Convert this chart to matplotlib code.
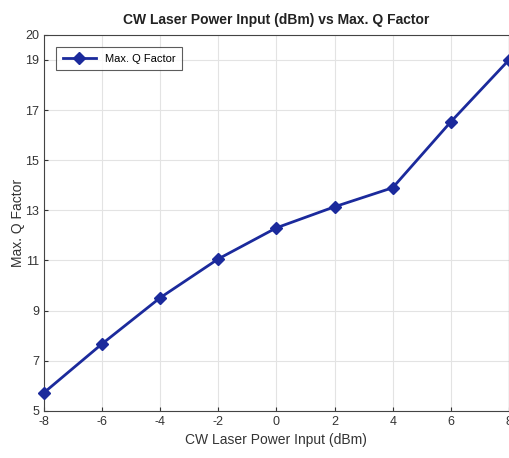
import matplotlib
matplotlib.use("Agg")
import matplotlib.pyplot as plt

plt.rcParams['font.family'] = ['Liberation Sans', 'DejaVu Sans']
plt.rcParams['axes.unicode_minus'] = False

# data
power_dbm = [-8, -6, -4, -2, 0, 2, 4, 6, 8]
max_q = [5.72, 7.67, 9.51, 11.06, 12.3, 13.14, 13.9, 16.53, 19.0]
y_ticks = [5, 7, 9, 11, 13, 15, 17, 19, 20]

fig = plt.figure(figsize=(5.1, 4.58), dpi=100)
ax = fig.add_axes([0.086, 0.103, 0.912, 0.821])

ax.plot(power_dbm, max_q, color='#1b2a9c', linewidth=2, marker='D',
        markersize=6, label='Max. Q Factor', clip_on=False, zorder=3)

ax.set_xlim(-8, 8)
ax.set_ylim(5, 20)
ax.set_xticks(power_dbm)
ax.set_yticks(y_ticks)
ax.grid(True, color='#e3e3e3', linewidth=0.8)
ax.tick_params(labelsize=9, colors='#333333', direction='in', length=3)
for s in ax.spines.values():
    s.set_color('#444444')

ax.set_xlabel('CW Laser Power Input (dBm)', fontsize=10, color='#333333')
ax.set_ylabel('Max. Q Factor', fontsize=10, color='#333333', labelpad=0)
ax.set_title('CW Laser Power Input (dBm) vs Max. Q Factor', fontsize=10,
             fontweight='bold', color='#222222', pad=8)

leg = ax.legend(loc='upper left', fontsize=8, fancybox=False,
                edgecolor='#333333', borderaxespad=1.1, borderpad=0.6,
                handlelength=3)
leg.get_frame().set_linewidth(0.8)

fig.savefig('out.png', dpi=100)
